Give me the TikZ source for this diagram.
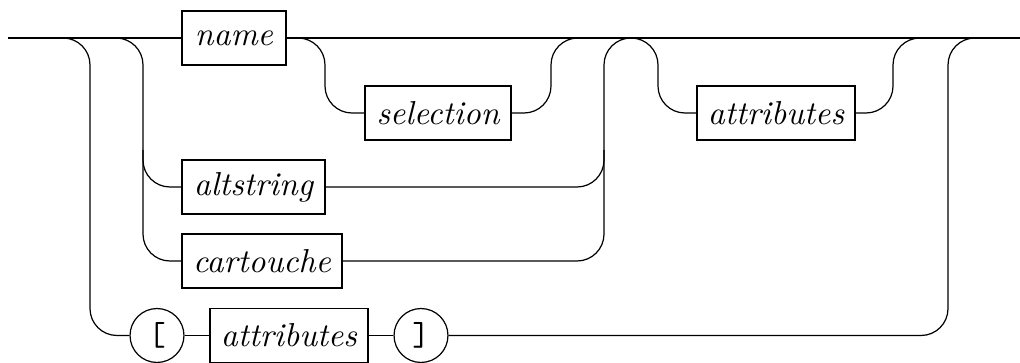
\documentclass[tikz,border=0pt]{standalone}
\usepackage{amsmath}
\usetikzlibrary{positioning}

\begin{document}
\begin{tikzpicture}[
    x=0.33pt, y=-0.33pt,
    box/.style={draw, minimum height=17.8pt, inner sep=0pt, font=\fontsize{10.95}{13}\selectfont\itshape},
    term/.style={draw, circle, minimum size=17.8pt, inner sep=0pt, font=\fontsize{10.95}{13}\selectfont\ttfamily},
    rail/.style={rounded corners=8.9pt}
]
    \useasboundingbox (0,0) rectangle (1020,363);
    % entry and exit
    \coordinate (start) at (8,38);
    \coordinate (finish) at (1020,38);
    \coordinate (fork) at (35,38);
    \coordinate (join) at (631,38);
    \coordinate (exit) at (975,38);

    \node[box, minimum width=34.3pt] (name) at (234,38) {name};
    \node[box, minimum width=48.2pt] (selection) at (438,113) {selection};
    \node[box, minimum width=52.1pt] (attrA) at (776,113) {attributes};
    \node[box, minimum width=47.2pt] (altstring) at (253.5,187) {altstring};
    \node[box, minimum width=52.8pt] (cartouche) at (262,261) {cartouche};
    \node[term] (lbr) at (157,335.5) {[};
    \node[box, minimum width=52.1pt] (attrB) at (289,335.5) {attributes};
    \node[term] (rbr) at (421,335.5) {]};

    % main line
    \draw (start) -- (name.west);
    \draw (name.east) -- (finish);

    % left forks
    \draw[rail] (fork) -- (90,38) -- (90,335.5) -- (lbr.west);
    \draw[rail] (90,38) -- (143,38) -- (143,187) -- (altstring.west);
    \draw[rail] (143,150) -- (143,261) -- (cartouche.west);

    % optional selection
    \draw[rail] (286,38) -- (325,38) -- (325,113) -- (selection.west);
    \draw[rail] (selection.east) -- (551,113) -- (551,38) -- (578,38);

    % alternatives join
    \draw[rail] (altstring.east) -- (604,187) -- (604,38) -- (join);
    \draw[rail] (cartouche.east) -- (604,261) -- (604,150);

    % optional attributes
    \draw[rail] (join) -- (658,38) -- (658,113) -- (attrA.west);
    \draw[rail] (attrA.east) -- (893,113) -- (893,38) -- (920,38);

    % bracketed attributes
    \draw (lbr) -- (attrB);
    \draw (attrB) -- (rbr);
    \draw[rail] (rbr.east) -- (948,335.5) -- (948,38) -- (exit);
\end{tikzpicture}
\end{document}
